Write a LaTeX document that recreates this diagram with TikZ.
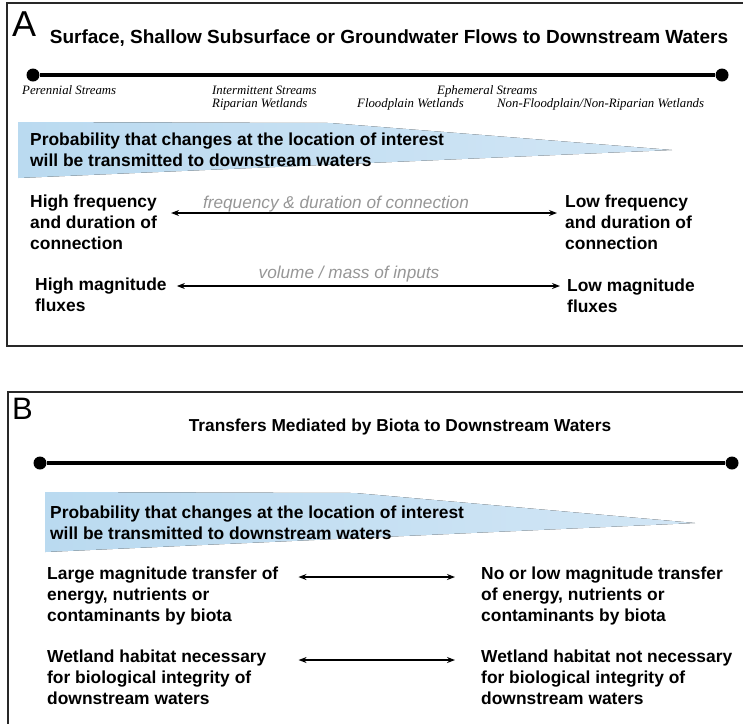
\documentclass[tikz,border=0pt]{standalone}
\usepackage{fontspec}
\setmainfont{Liberation Sans}
\newfontfamily\timesit{Liberation Serif}
\usetikzlibrary{arrows.meta}
\definecolor{wedgeL}{RGB}{186,218,240}
\definecolor{wedgeR}{RGB}{210,230,245}
\definecolor{boxgray}{RGB}{40,40,40}
\definecolor{hintgray}{RGB}{150,150,150}
\tikzset{
  panelletter/.style={anchor=north west,inner sep=0pt,font=\fontsize{#1}{#1}\selectfont},
  paneltitle/.style={anchor=base,inner sep=0pt,font=\bfseries\fontsize{#1}{20}\selectfont},
  sitelabel/.style={anchor=base west,inner sep=0pt,font=\timesit\itshape\fontsize{12.8}{13}\selectfont},
  sidetext/.style={anchor=north west,inner sep=0pt,align=left,font=\bfseries\fontsize{17.4}{20.7}\selectfont},
  hint/.style={anchor=base,inner sep=0pt,text=hintgray,font=\itshape\fontsize{17.2}{18}\selectfont},
  enddot/.style={circle,fill=black,inner sep=0pt,minimum size=13pt},
  axisline/.style={line width=3.5pt},
  twoway/.style={{Stealth[length=8pt,width=6pt]}-{Stealth[length=8pt,width=6pt]},line width=1.2pt},
  wedge/.style={left color=wedgeL,right color=wedgeR,draw=none},
  panelframe/.style={draw=boxgray,line width=1.6pt}
}
\begin{document}
\begin{tikzpicture}[x=1pt,y=-1pt]
\useasboundingbox (0,0) rectangle (743,724);
% panel A
\draw[panelframe] (743,3) -- (7,3) -- (7,346) -- (743,346);
\node[panelletter=36] (letA) at (12,12) {A};
\node[paneltitle=19] (titleA) at (389,43) {Surface, Shallow Subsurface or Groundwater Flows to Downstream Waters};
\node[enddot] (a0) at (33,75) {};
\node[enddot] (a1) at (722,75) {};
\draw[axisline] (a0) -- (a1);
\node[sitelabel] (peren) at (22,94) {Perennial Streams};
\node[sitelabel] (interm) at (212,94) {Intermittent Streams};
\node[sitelabel] (ripar) at (212,107) {Riparian Wetlands};
\node[sitelabel] (ephem) at (437,94) {Ephemeral Streams};
\node[sitelabel] (flood) at (357,107) {Floodplain Wetlands};
\node[sitelabel] (nonfl) at (497,107) {Non-Floodplain/Non-Riparian Wetlands};
\fill[wedge] (18,122) -- (330,123) -- (672,150) -- (18,178) -- cycle;
\node[sidetext] (probA) at (30,133) {Probability that changes at the location of interest\\will be transmitted to downstream waters};
\node[sidetext] (hfreq) at (30,195) {High frequency\\and duration of\\connection};
\node[sidetext] (lfreq) at (565,195) {Low frequency\\and duration of\\connection};
\node[hint] (fdlab) at (336,208) {frequency \& duration of connection};
\draw[twoway] ([xshift=14pt,yshift=-18pt]hfreq.north east) -- ([xshift=-8pt,yshift=-18pt]lfreq.north west);
\node[sidetext] (hmag) at (35,278) {High magnitude\\fluxes};
\node[sidetext] (lmag) at (567,279) {Low magnitude\\fluxes};
\node[hint] (vmlab) at (349,278) {volume / mass of inputs};
\draw[twoway] ([xshift=10pt,yshift=-8pt]hmag.north east) -- ([xshift=-7pt,yshift=-7pt]lmag.north west);
% panel B
\draw[panelframe] (743,392) -- (8,392) -- (8,724);
\node[panelletter=31] (letB) at (12,398) {B};
\node[paneltitle=17.3] (titleB) at (400,431) {Transfers Mediated by Biota to Downstream Waters};
\node[enddot] (b0) at (40,463) {};
\node[enddot] (b1) at (732,463) {};
\draw[axisline] (b0) -- (b1);
\fill[wedge] (45,492) -- (355,493) -- (695,523) -- (45,552) -- cycle;
\node[sidetext] (probB) at (50,506) {Probability that changes at the location of interest\\will be transmitted to downstream waters};
\node[sidetext] (large) at (47,567) {Large magnitude transfer of\\energy, nutrients or\\contaminants by biota};
\node[sidetext] (nolow) at (481,567) {No or low magnitude transfer\\of energy, nutrients or\\contaminants by biota};
\draw[twoway] ([xshift=20pt,yshift=-10pt]large.north east) -- ([xshift=-26pt,yshift=-10pt]nolow.north west);
\node[sidetext] (wneed) at (47,650) {Wetland habitat necessary\\for biological integrity of\\downstream waters};
\node[sidetext] (wnot) at (481,650) {Wetland habitat not necessary\\for biological integrity of\\downstream waters};
\draw[twoway] ([xshift=32pt,yshift=-10pt]wneed.north east) -- ([xshift=-26pt,yshift=-10pt]wnot.north west);
\end{tikzpicture}
\end{document}
